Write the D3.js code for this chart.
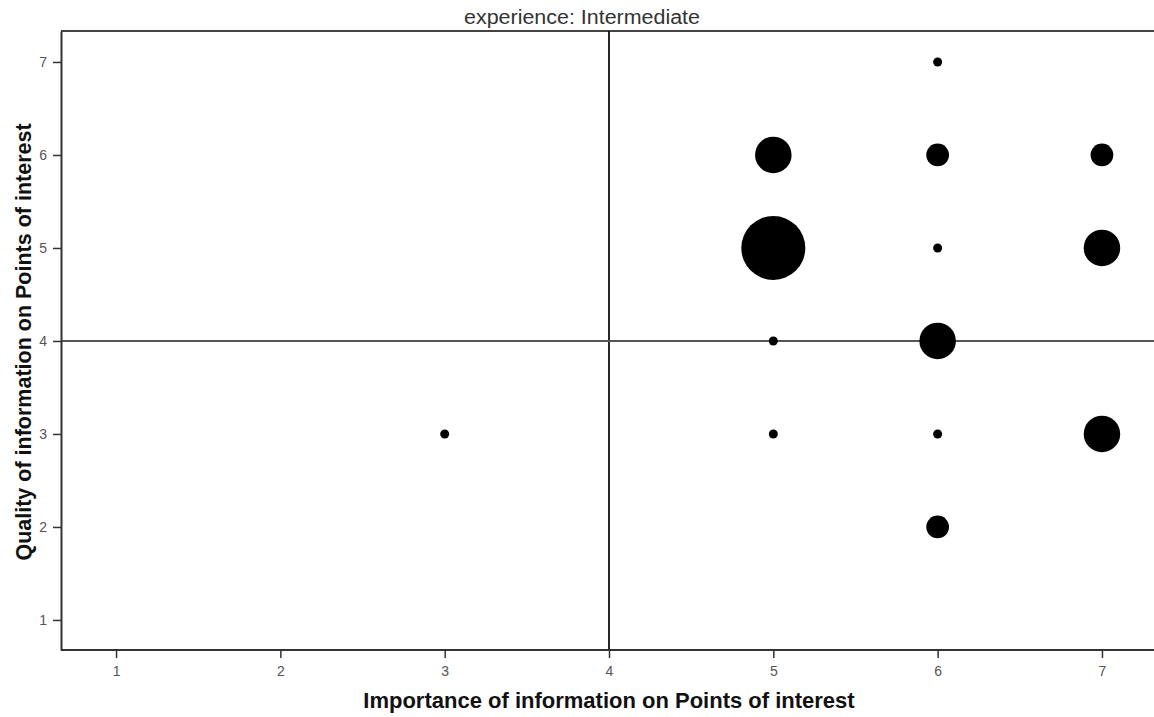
<!DOCTYPE html>
<html>
<head>
<meta charset="utf-8">
<script src="https://cdn.jsdelivr.net/npm/d3@7"></script>
<style>
  body { margin: 0; background: #fff; }
  svg { display: block; font-family: "Liberation Sans", Arial, sans-serif; }
</style>
</head>
<body>
<svg id="mainsvg" width="1154" height="717"></svg>
<script>
// cell counts: importance (x), quality (y), number of respondents
const importance = [3, 5, 5, 5, 5, 6, 6, 6, 6, 6, 6, 7, 7, 7]
const quality    = [3, 6, 5, 4, 3, 7, 6, 5, 4, 3, 2, 6, 5, 3]
const counts     = [1, 3, 5, 1, 1, 1, 2, 1, 3, 1, 2, 2, 3, 3]
const xTicks = [1, 2, 3, 4, 5, 6, 7]
const yTicks = [1, 2, 3, 4, 5, 6, 7]
const refX = 4
const refY = 4

const svg = d3.select('#mainsvg')
const plot = {left: 61, top: 31, right: 1157, bottom: 650}
const width = +svg.attr('width')

const x = d3.scaleLinear().domain([0.665, 7.335]).range([plot.left, plot.right])
const y = d3.scaleLinear().domain([0.677, 7.333]).range([plot.bottom, plot.top])
const r = d3.scaleLinear().domain([1, 5]).range([4.5, 32])

const data = importance.map((d, i) => ({x: d, y: quality[i], n: counts[i]}))

// title
svg.append('text')
  .attr('x', 582).attr('y', 24)
  .attr('text-anchor', 'middle')
  .attr('font-size', 19.5)
  .attr('textLength', 236).attr('lengthAdjust', 'spacingAndGlyphs')
  .attr('fill', '#333')
  .text('experience: Intermediate')

// top frame line
svg.append('line')
  .attr('x1', plot.left).attr('x2', width)
  .attr('y1', plot.top).attr('y2', plot.top)
  .attr('stroke', '#444').attr('stroke-width', 2)

// reference lines
svg.append('line')
  .attr('x1', x(refX)).attr('x2', x(refX))
  .attr('y1', plot.top).attr('y2', plot.bottom)
  .attr('stroke', '#111').attr('stroke-width', 1.8)
svg.append('line')
  .attr('x1', plot.left).attr('x2', width)
  .attr('y1', y(refY)).attr('y2', y(refY))
  .attr('stroke', '#555').attr('stroke-width', 2)

// axes
const fmt = d3.format('d')
const xAxis = svg.append('g')
  .attr('transform', `translate(0, ${plot.bottom})`)
  .call(d3.axisBottom(x).tickValues(xTicks).tickFormat(fmt).tickSize(8).tickPadding(8).tickSizeOuter(0))
const yAxis = svg.append('g')
  .attr('transform', `translate(${plot.left}, 0)`)
  .call(d3.axisLeft(y).tickValues(yTicks).tickFormat(fmt).tickSize(8).tickPadding(6).tickSizeOuter(0))

;[xAxis, yAxis].forEach(a => {
  a.select('.domain').attr('stroke', '#333').attr('stroke-width', 2)
  a.selectAll('.tick line').attr('stroke', '#333').attr('stroke-width', 1.5)
  a.selectAll('.tick text').attr('fill', '#555').attr('font-size', 14)
    .attr('font-family', '"Liberation Sans", Arial, sans-serif')
})
xAxis.select('.domain').attr('d', `M${plot.left},0H${width}`)

// bubbles
svg.append('g').selectAll('circle').data(data).join('circle')
  .attr('cx', d => x(d.x))
  .attr('cy', d => y(d.y))
  .attr('r', d => r(d.n))
  .attr('fill', '#000')

// axis titles
svg.append('text')
  .attr('x', 609).attr('y', 708)
  .attr('text-anchor', 'middle')
  .attr('font-size', 22).attr('font-weight', 'bold')
  .attr('fill', '#111')
  .text('Importance of information on Points of interest')
svg.append('text')
  .attr('transform', `translate(31, 342) rotate(-90)`)
  .attr('text-anchor', 'middle')
  .attr('font-size', 21.5).attr('font-weight', 'bold')
  .attr('fill', '#111')
  .text('Quality of information on Points of interest')
</script>
</body>
</html>
